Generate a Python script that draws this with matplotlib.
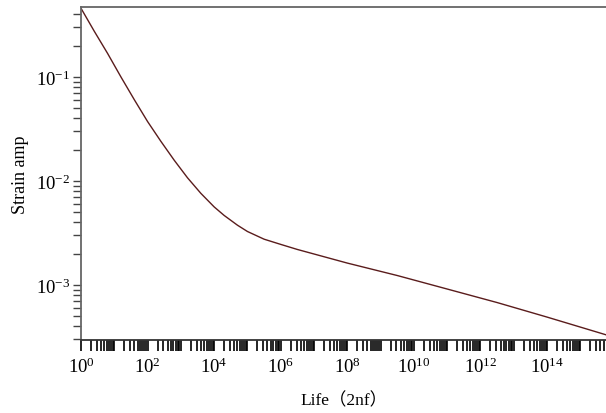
import numpy as np
import matplotlib
matplotlib.use("Agg")
from matplotlib import pyplot as plt
from matplotlib import ticker

plt.rcParams['font.family'] = ['Liberation Serif', 'Noto Sans CJK SC']
plt.rcParams['mathtext.fontset'] = 'custom'
plt.rcParams['mathtext.rm'] = 'Liberation Serif'
plt.rcParams['mathtext.it'] = 'Liberation Serif:italic'

# strain-life curve
life = [1.0, 2.5, 6.3, 15.8, 40, 100, 251, 631, 1585, 3981, 1e4, 2e4, 5e4,
        1e5, 3.16e5, 1e6, 3.16e6, 1e8, 3.16e9, 1e11, 3.16e12, 1e14, 5.9e15]
strain = [0.457, 0.275, 0.168, 0.100, 0.0603, 0.0372, 0.0240, 0.0158, 0.0107,
          0.00759, 0.00562, 0.00465, 0.00375, 0.00326, 0.00275, 0.00245,
          0.00219, 0.00162, 0.00123, 0.000912, 0.000676, 0.00049, 0.000331]

xmajor = [1e0, 1e2, 1e4, 1e6, 1e8, 1e10, 1e12, 1e14]
ymajor = [1e-3, 1e-2, 1e-1]

fig = plt.figure(figsize=(6.06, 4.14), dpi=100)
ax = fig.add_axes([81/606, 1-341/414, 1-81/606, (341-8)/414])

ax.plot(life, strain, color='#5a1c1c', lw=1.0)

ax.set_xscale('log')
ax.set_yscale('log')
ax.set_xlim(1, 5.9e15)
ax.set_ylim(2.95e-4, 0.47)

ax.xaxis.set_major_locator(ticker.FixedLocator(xmajor))
ax.xaxis.set_minor_locator(ticker.LogLocator(base=10, subs=np.arange(1, 10), numticks=200))
ax.xaxis.set_major_formatter(ticker.LogFormatterMathtext())
ax.xaxis.set_minor_formatter(ticker.NullFormatter())
ax.yaxis.set_major_locator(ticker.FixedLocator(ymajor))
ax.yaxis.set_minor_locator(ticker.LogLocator(base=10, subs=np.arange(2, 10), numticks=50))
ax.yaxis.set_major_formatter(ticker.LogFormatterMathtext())
ax.yaxis.set_minor_formatter(ticker.NullFormatter())

ax.tick_params(axis='x', which='both', direction='out', length=8, width=1.2,
               color='black', labelsize=13.5, pad=4)
ax.tick_params(axis='y', which='both', direction='out', length=6, width=1.0,
               color='#444444', labelsize=13.5, pad=2)

for s in ['top', 'left']:
    ax.spines[s].set_color('#666666')
    ax.spines[s].set_linewidth(1.3)
ax.spines['bottom'].set_color('#333333')
ax.spines['bottom'].set_linewidth(1.3)
ax.spines['right'].set_visible(False)

ax.set_xlabel('Life（2nf）', fontsize=12.5, labelpad=11)
ax.set_ylabel('Strain amp', fontsize=13, labelpad=5)

fig.savefig('out.png', dpi=100)
